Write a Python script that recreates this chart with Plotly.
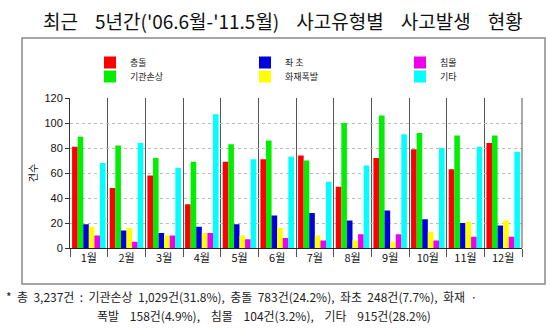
import plotly.graph_objects as go

months = ["1월", "2월", "3월", "4월", "5월", "6월", "7월", "8월", "9월", "10월", "11월", "12월"]
collision = [81, 48, 58, 35, 69, 71, 74, 49, 72, 79, 63, 84]      # 충돌
engine = [89, 82, 72, 69, 83, 86, 70, 100, 106, 92, 90, 90]       # 기관손상
grounding = [19, 14, 12, 17, 19, 26, 28, 22, 30, 23, 20, 18]      # 좌초
fire = [17, 16, 10, 12, 10, 16, 10, 6, 5, 13, 21, 22]             # 화재폭발
sinking = [10, 5, 10, 12, 7, 8, 6, 11, 11, 6, 9, 9]               # 침몰
other = [68, 84, 64, 107, 71, 73, 53, 66, 91, 80, 81, 77]         # 기타

names = ["충돌", "기관손상", "좌 초", "화재폭발", "침몰", "기타"]
values = [collision, engine, grounding, fire, sinking, other]
colors = ["#ff0000", "#00ee00", "#0000dd", "#ffff00", "#ee00ee", "#00ffff"]
# legend grid: (column, row)
legend_cell = [(0, 0), (0, 1), (1, 0), (1, 1), (2, 0), (2, 1)]

FONT = "Noto Sans CJK KR"
W, H = 550, 332
L, R, T, B = 70, 28, 98, 84
pw, ph = W - L - R, H - T - B

def px(xp):
    return (xp - L) / pw

def py(yp):
    return (H - B - yp) / ph

fig = go.Figure()
legends = {}
for i, (name, vals, color) in enumerate(zip(names, values, colors)):
    key = "legend" if i == 0 else f"legend{i + 1}"
    fig.add_trace(go.Bar(x=months, y=vals, name=name, marker=dict(color=color, line=dict(width=0)),
                         legend=key))
    col, row = legend_cell[i]
    legends[key] = dict(orientation="h", font=dict(family=FONT, size=9, color="#222"),
                        itemwidth=30, bgcolor="rgba(0,0,0,0)", xanchor="left", yanchor="top",
                        x=px(90 + 155 * col), y=py(48 + 14 * row))

fig.update_layout(
    width=W, height=H,
    margin=dict(l=L, r=R, t=T, b=B),
    paper_bgcolor="white", plot_bgcolor="white",
    barmode="group", bargap=0.11, bargroupgap=0,
    font=dict(family=FONT, size=11, color="#111"),
    showlegend=True,
    xaxis=dict(type="category", tickson="boundaries", ticks="outside", ticklen=8,
               tickcolor="#555", showgrid=True, gridcolor="#555", gridwidth=1,
               showline=True, linecolor="#222", linewidth=1, mirror=False,
               tickfont=dict(family=FONT, size=11, color="#111")),
    yaxis=dict(range=[0, 120], dtick=20, showgrid=True, gridcolor="#bbbbbb", griddash="dot",
               showline=True, linecolor="#333", ticks="outside", ticklen=4, tickcolor="#333",
               zeroline=False, tickfont=dict(family="Liberation Sans", size=11, color="#111"),
               title=dict(text="건수", font=dict(family=FONT, size=10), standoff=4)),
    shapes=[
        dict(type="rect", xref="paper", yref="paper", x0=px(22), x1=px(545), y0=py(284), y1=py(38),
             line=dict(color="#888", width=1.5), layer="below"),
        dict(type="line", xref="paper", yref="paper", x0=1, x1=1, y0=0, y1=1,
             line=dict(color="#555", width=1)),
    ],
    annotations=[
        dict(text="최근    5년간('06.6월-'11.5월)    사고유형별    사고발생    현황",
             xref="paper", yref="paper", x=px(283), y=py(21), xanchor="center", yanchor="middle",
             showarrow=False, font=dict(family=FONT, size=19, color="#111")),
        dict(text="*  총  3,237건  :  기관손상  1,029건(31.8%),  충돌  783건(24.2%),  좌초  248건(7.7%),  화재  ·",
             xref="paper", yref="paper", x=px(4), y=py(296), xanchor="left", yanchor="middle",
             showarrow=False, font=dict(family=FONT, size=12, color="#222")),
        dict(text="폭발    158건(4.9%),    침몰    104건(3.2%),    기타    915건(28.2%)",
             xref="paper", yref="paper", x=px(95), y=py(315), xanchor="left", yanchor="middle",
             showarrow=False, font=dict(family=FONT, size=12, color="#222")),
    ],
    **legends,
)

fig.write_html("out.html")
